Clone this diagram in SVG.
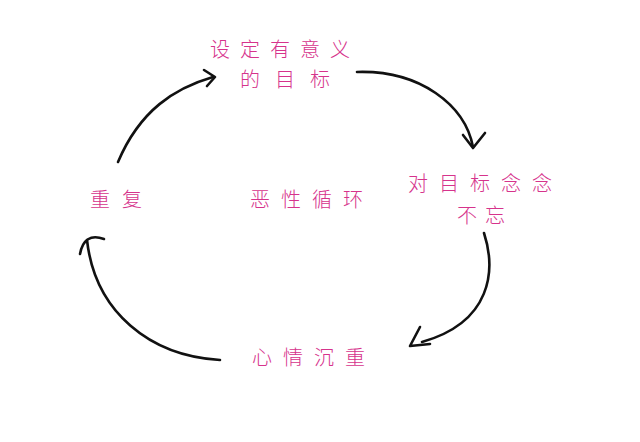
<svg xmlns="http://www.w3.org/2000/svg" width="640" height="442" viewBox="0 0 640 442">
<style>
.t{font-family:"Noto Sans CJK SC","Noto Sans",sans-serif;font-size:20px;fill:#d6338c;font-weight:300}
.c{fill:none;stroke:#111;stroke-width:2.6;stroke-linecap:round;stroke-linejoin:round}
</style>
<rect width="640" height="442" fill="#fff"/>
<g id="goal"><text class="t" x="210" y="57" letter-spacing="10">设定有意义</text><text class="t" x="240" y="87" letter-spacing="15">的目标</text></g>
<g id="obsess"><text class="t" x="408" y="191" letter-spacing="11">对目标念念</text><text class="t" x="457" y="223" letter-spacing="8">不忘</text></g>
<g id="heavy"><text class="t" x="252" y="365" letter-spacing="11">心情沉重</text></g>
<g id="repeat"><text class="t" x="90" y="207" letter-spacing="12">重复</text></g>
<g id="center"><text class="t" x="250" y="207" letter-spacing="11">恶性循环</text></g>
<g id="connectors">
<path class="c" d="M118,162 C140,110 175,88 213,77"/>
<path class="c" d="M204,70 L215,77 L207,86"/>
<path class="c" d="M357,72 C420,70 465,105 473,147"/>
<path class="c" d="M463,135 L473,148 L485,133"/>
<path class="c" d="M484,233 C496,270 492,322 422,342"/>
<path class="c" d="M420,327 L410,346 L430,344"/>
<path class="c" d="M220,360 C150,356 95,312 87,240"/>
<path class="c" d="M80,254 Q84,232 104,239"/>
</g>
</svg>
